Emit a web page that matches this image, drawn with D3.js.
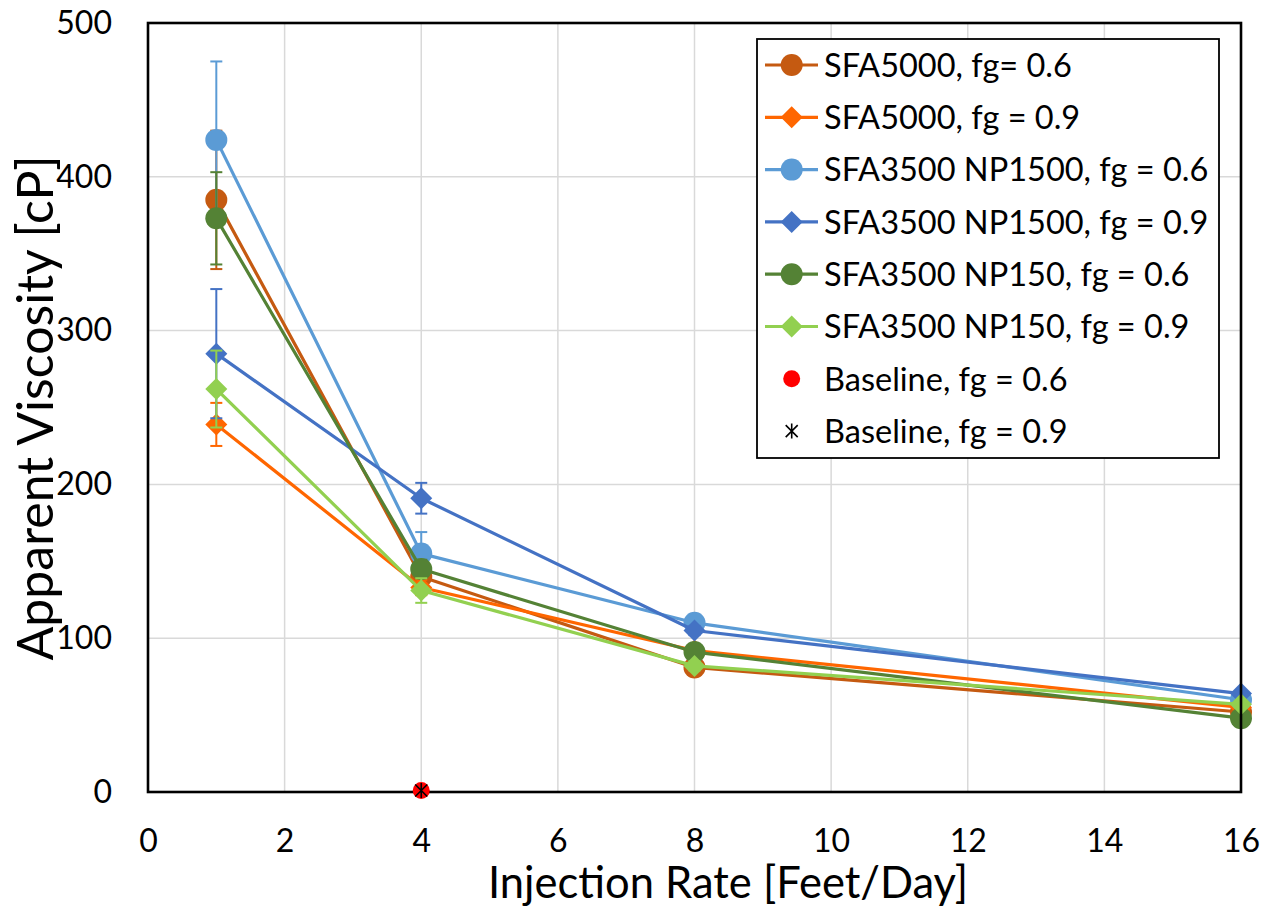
<!DOCTYPE html>
<html>
<head>
<meta charset="utf-8">
<script src="https://cdn.jsdelivr.net/npm/d3@7"></script>
<style>
  html, body { margin: 0; padding: 0; background: #fff; }
  svg { display: block; font-family: Lato, "Open Sans", sans-serif; }
</style>
</head>
<body>
<svg id="chart" width="1271" height="910"></svg>
<script>
// Injection rates (ft/day)
const rates = [1, 4, 8, 16];

// Apparent viscosity (cP) and error bar half-widths per formulation
const sfa5000_fg06 = [385, 140, 81, 52];
const sfa5000_fg06_err = [45, 6, 3, 2];
const sfa5000_fg09 = [239, 133, 92, 55];
const sfa5000_fg09_err = [14, 5, 3, 2];
const np1500_fg06 = [424, 155, 110, 60];
const np1500_fg06_err = [51, 14, 4, 3];
const np1500_fg09 = [285, 191, 105, 64];
const np1500_fg09_err = [42, 10, 3, 2];
const np150_fg06 = [373, 145, 91, 48];
const np150_fg06_err = [30, 6, 3, 2];
const np150_fg09 = [262, 131, 82, 57];
const np150_fg09_err = [25, 8, 3, 2];

// Baseline measurements (single rate)
const baselineRate = [4];
const baseline_fg06 = [1];
const baseline_fg09 = [1];

const xTicks = [0, 2, 4, 6, 8, 10, 12, 14, 16];
const yTicks = [0, 100, 200, 300, 400, 500];

const seriesNames = [
  "SFA5000, fg= 0.6",
  "SFA5000, fg = 0.9",
  "SFA3500 NP1500, fg = 0.6",
  "SFA3500 NP1500, fg = 0.9",
  "SFA3500 NP150, fg = 0.6",
  "SFA3500 NP150, fg = 0.9",
  "Baseline, fg = 0.6",
  "Baseline, fg = 0.9"
];

const series = [
  { name: seriesNames[0], y: sfa5000_fg06, err: sfa5000_fg06_err, color: "#C55A11", marker: "circle" },
  { name: seriesNames[1], y: sfa5000_fg09, err: sfa5000_fg09_err, color: "#FF6600", marker: "diamond" },
  { name: seriesNames[2], y: np1500_fg06, err: np1500_fg06_err, color: "#5B9BD5", marker: "circle" },
  { name: seriesNames[3], y: np1500_fg09, err: np1500_fg09_err, color: "#4472C4", marker: "diamond" },
  { name: seriesNames[4], y: np150_fg06, err: np150_fg06_err, color: "#548235", marker: "circle" },
  { name: seriesNames[5], y: np150_fg09, err: np150_fg09_err, color: "#92D050", marker: "diamond" }
];

const svg = d3.select("#chart");
const plotL = 148, plotR = 1241, plotT = 23, plotB = 792;

const x = d3.scaleLinear().domain([0, 16]).range([plotL, plotR]);
const y = d3.scaleLinear().domain([0, 500]).range([plotB, plotT]);

// Gridlines
const grid = svg.append("g");
grid.selectAll("line.gx").data(xTicks.slice(1, -1)).join("line")
  .attr("class", "gx")
  .attr("x1", d => x(d)).attr("x2", d => x(d))
  .attr("y1", plotT).attr("y2", plotB)
  .attr("stroke", "#d9d9d9").attr("stroke-width", 1.5);
grid.selectAll("line.gy").data(yTicks.slice(1, -1)).join("line")
  .attr("class", "gy")
  .attr("x1", plotL).attr("x2", plotR)
  .attr("y1", d => y(d)).attr("y2", d => y(d))
  .attr("stroke", "#d9d9d9").attr("stroke-width", 1.5);

// Axes (labels only, the frame is drawn separately)
const xAxis = svg.append("g").attr("transform", `translate(0,${plotB})`)
  .call(d3.axisBottom(x).tickValues(xTicks).tickSize(0).tickPadding(37));
const yAxis = svg.append("g").attr("transform", `translate(${plotL},0)`)
  .call(d3.axisLeft(y).tickValues(yTicks).tickSize(0).tickPadding(36));
[xAxis, yAxis].forEach(a => {
  a.select(".domain").remove();
  a.selectAll("text").attr("font-size", 32).attr("fill", "#000")
    .attr("font-family", "Lato, 'Open Sans', sans-serif");
});

// Axis titles
svg.append("text")
  .attr("x", 728).attr("y", 898)
  .attr("text-anchor", "middle").attr("font-size", 43.5).attr("fill", "#000")
  .text("Injection Rate [Feet/Day]");
svg.append("text")
  .attr("transform", `translate(53,408) rotate(-90)`)
  .attr("text-anchor", "middle").attr("font-size", 50).attr("fill", "#000")
  .text("Apparent Viscosity [cP]");

function drawMarker(g, type, cx, cy, color, size) {
  if (type === "circle") {
    g.append("circle").attr("cx", cx).attr("cy", cy).attr("r", size).attr("fill", color);
  } else if (type === "diamond") {
    const s = size;
    g.append("path")
      .attr("d", `M${cx},${cy - s}L${cx + s},${cy}L${cx},${cy + s}L${cx - s},${cy}Z`)
      .attr("fill", color);
  } else if (type === "star") {
    const s = size;
    const p = `M${cx - s},${cy - s}L${cx + s},${cy + s}M${cx - s},${cy + s}L${cx + s},${cy - s}M${cx},${cy - s * 1.25}L${cx},${cy + s * 1.25}`;
    g.append("path").attr("d", p).attr("stroke", color).attr("stroke-width", 1.6).attr("fill", "none");
  }
}

const line = d3.line().x(d => x(d[0])).y(d => y(d[1]));
const capHalf = 6;

// Series: error bars, line, then markers
series.forEach(s => {
  const g = svg.append("g");
  const pts = rates.map((r, i) => [r, s.y[i], s.err[i]]);
  pts.forEach(p => {
    const cx = x(p[0]);
    g.append("line").attr("x1", cx).attr("x2", cx)
      .attr("y1", y(p[1] - p[2])).attr("y2", y(p[1] + p[2]))
      .attr("stroke", s.color).attr("stroke-width", 2);
    [p[1] - p[2], p[1] + p[2]].forEach(v => {
      g.append("line").attr("x1", cx - capHalf).attr("x2", cx + capHalf)
        .attr("y1", y(v)).attr("y2", y(v))
        .attr("stroke", s.color).attr("stroke-width", 2);
    });
  });
  g.append("path").datum(pts).attr("d", line)
    .attr("fill", "none").attr("stroke", s.color).attr("stroke-width", 3.2)
    .attr("stroke-linejoin", "round");
  pts.forEach(p => drawMarker(g, s.marker, x(p[0]), y(p[1]), s.color, 11));
});

// Plot frame
svg.append("rect").attr("x", plotL).attr("y", plotT)
  .attr("width", plotR - plotL).attr("height", plotB - plotT)
  .attr("fill", "none").attr("stroke", "#000").attr("stroke-width", 2.6);

// Baseline points, drawn over the frame so they sit on the x-axis
const gb = svg.append("g");
baselineRate.forEach((r, i) => drawMarker(gb, "circle", x(r), y(baseline_fg06[i]), "#FF0000", 8.5));
baselineRate.forEach((r, i) => drawMarker(gb, "star", x(r), y(baseline_fg09[i]), "#000", 6));

// Legend
const lg = svg.append("g");
lg.append("rect").attr("x", 757).attr("y", 39).attr("width", 462).attr("height", 419)
  .attr("fill", "#fff").attr("stroke", "#000").attr("stroke-width", 1.8);
const legendItems = series.map(s => ({ name: s.name, color: s.color, marker: s.marker, line: true }))
  .concat([
    { name: seriesNames[6], color: "#FF0000", marker: "circle", line: false },
    { name: seriesNames[7], color: "#000", marker: "star", line: false }
  ]);
legendItems.forEach((d, i) => {
  const cy = 65 + i * 52.3;
  if (d.line) {
    lg.append("line").attr("x1", 765).attr("x2", 818).attr("y1", cy).attr("y2", cy)
      .attr("stroke", d.color).attr("stroke-width", 3.2);
  }
  const size = d.marker === "star" ? 6 : (d.line ? 11 : 8.5);
  drawMarker(lg, d.marker, 791.7, cy, d.color, size);
  lg.append("text").attr("x", 824).attr("y", cy).attr("dy", "0.36em")
    .attr("font-size", 32.5).attr("fill", "#000").text(d.name);
});
</script>
</body>
</html>
